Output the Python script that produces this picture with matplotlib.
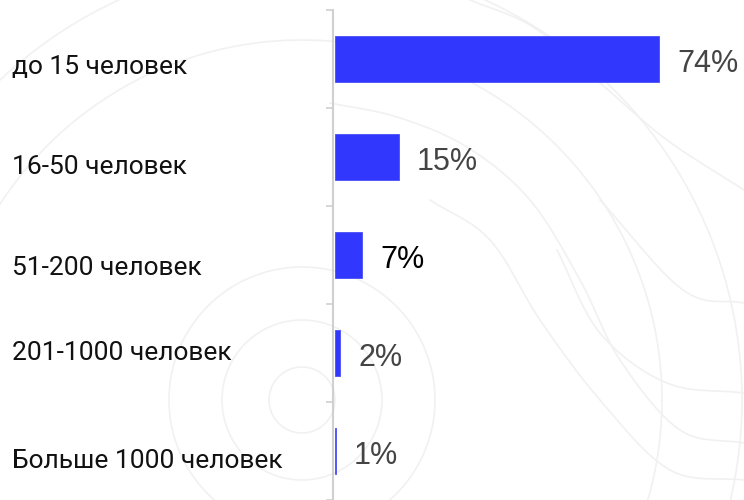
import numpy as np
import matplotlib
matplotlib.use('Agg')
import matplotlib.pyplot as plt
import matplotlib.transforms as mtransforms

# Данные
categories = ['до 15 человек', '16-50 человек', '51-200 человек',
              '201-1000 человек', 'Больше 1000 человек']
values = [74, 14.5, 6.2, 1.2, 0.25]
value_labels = ['74%', '15%', '7%', '2%', '1%']

W, H = 744, 500
fig = plt.figure(figsize=(W / 100, H / 100), dpi=100)

# Фон: бледные окружности и волны
bg = fig.add_axes([0, 0, 1, 1])
bg.set_xlim(0, W)
bg.set_ylim(H, 0)
bg.axis('off')
t = np.linspace(0, 2 * np.pi, 400)
for r in [33, 80, 133, 360, 440]:
    bg.plot(302 + r * np.cos(t), 400 + r * np.sin(t), color='#f1f1f1', lw=1.2)


def catmull(pts, n=30):
    # сглаживание ломаной сплайном Катмулла-Рома
    p = np.array(pts, dtype=float)
    p = np.vstack([2 * p[0] - p[1], p, 2 * p[-1] - p[-2]])
    out = []
    s = np.linspace(0, 1, n)[:, None]
    for i in range(1, len(p) - 2):
        p0, p1, p2, p3 = p[i - 1], p[i], p[i + 1], p[i + 2]
        out.append(0.5 * (2 * p1 + (-p0 + p2) * s + (2 * p0 - 5 * p1 + 4 * p2 - p3) * s ** 2
                          + (-p0 + 3 * p1 - 3 * p2 + p3) * s ** 3))
    out = np.vstack(out)
    return out[:, 0], out[:, 1]


waves = [
    [(470, 0), (533, 27), (600, 83), (667, 140), (744, 190)],
    [(330, 103), (397, 117), (467, 147), (530, 200), (580, 280), (620, 360), (680, 430), (744, 443)],
    [(430, 200), (490, 240), (540, 320), (600, 400), (670, 470), (744, 480)],
    [(557, 250), (600, 333), (667, 383), (744, 393)],
    [(600, 200), (683, 290), (744, 303)],
]
for w in waves:
    x, y = catmull(w)
    bg.plot(x, y, color='#f1f1f1', lw=1.2)

# Основной график
ax = fig.add_axes([333 / W, 0, 1 - 333 / W, 490 / H])
ax.patch.set_alpha(0)
pos = np.arange(len(categories))
ax.barh(pos, values, height=0.46, color='#3237fd', edgecolor='#4a4ff5', lw=0.6)
ax.set_xlim(-0.46, (W - 333) / 4.38 - 0.46)
ax.set_ylim(len(categories) - 0.5, -0.5)

for s in ['top', 'right', 'bottom']:
    ax.spines[s].set_visible(False)
ax.spines['left'].set_color('#d0d0d0')
ax.spines['left'].set_linewidth(1.5)
ax.set_xticks([])
ax.set_yticks(np.arange(-0.5, len(categories) - 0.4, 1.0))
ax.set_yticklabels([])
ax.tick_params(axis='y', length=5, width=1.2, color='#d0d0d0')

# Подписи категорий
label_shift = [15.5, 17.5, 20, 7, 17]
tr = mtransforms.blended_transform_factory(fig.dpi_scale_trans, ax.transData)
for i, name in enumerate(categories):
    off = mtransforms.ScaledTranslation(0, -label_shift[i] / 100, fig.dpi_scale_trans)
    ax.text(12 / 100, i, name, transform=tr + off,
            ha='left', va='baseline', fontsize=19, family='Roboto', color='#111111')

# Подписи значений
for i, (v, lab) in enumerate(zip(values, value_labels)):
    ax.annotate(lab, xy=(v, i), xytext=(18, -13), textcoords='offset pixels',
                ha='left', va='baseline', fontsize=22, family='Liberation Sans',
                color='#000000' if lab == '7%' else '#444444')

fig.savefig('out.png', dpi=100)
